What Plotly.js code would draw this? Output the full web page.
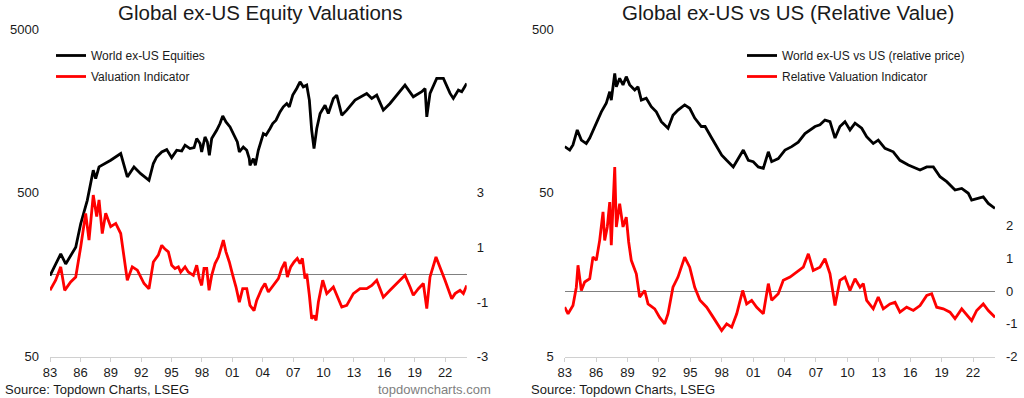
<!DOCTYPE html>
<html>
<head>
<meta charset="utf-8">
<script src="https://cdn.plot.ly/plotly-3.0.1.min.js"></script>
<style>
  html, body { margin: 0; padding: 0; background: #ffffff; }
  #chart { width: 1024px; height: 398px; }
</style>
</head>
<body>
<div id="chart"></div>
<script>
// ---------- data (decimal years) ----------
const tickYears = [1983,1986,1989,1992,1995,1998,2001,2004,2007,2010,2013,2016,2019,2022];
const tickLabels = ['83','86','89','92','95','98','01','04','07','10','13','16','19','22'];

// Left panel: World ex-US Equities (log scale, left axis)
const exusDates = [1983.0,1984.06,1984.55,1985.54,1986.03,1986.68,1987.27,1987.51,1987.84,1988.99,1989.98,1990.63,1991.29,1991.95,1992.77,
  1993.2,1993.53,1994.03,1994.52,1995.01,1995.51,1996.0,1996.33,1996.82,1997.22,1997.48,1997.81,1997.97,1998.30,1998.53,1998.73,1998.96,1999.45,1999.78,2000.05,2000.37,2000.77,2001.10,2001.49,2001.69,2002.08,2002.42,2002.67,2002.74,2003.07,2003.27,2003.56,2004.06,2004.32,2004.72,2004.98,2005.31,2005.70,2006.03,2006.37,2006.62,2006.96,2007.35,2007.68,2008.0,2008.34,2008.6,2008.83,2009.06,2009.33,2009.66,
  2010.15,2010.47,2010.97,2011.30,2011.80,2012.29,2013.11,2014.26,2014.76,2015.25,2015.90,2016.56,2017.22,2018.04,2018.86,2019.69,2020.02,2020.19,2020.51,2021.17,2021.83,2022.49,2022.81,2023.31,2023.64,2024.13];
const exusPrice = [156,212,184,233,324,450,687,611,720,791,869,625,720,655,596,
  755,828,889,918,820,910,900,977,931,944,1072,1000,889,1097,1023,847,1072,1205,1325,1475,1355,1262,1151,1023,889,953,910,809,736,809,736,910,1151,1125,1236,1325,1388,1560,1675,1755,1675,1974,2168,2382,2218,2271,1841,1205,931,1236,1524,
  1714,1524,1884,1974,1490,1598,1841,2022,1884,1974,1598,1755,1974,2271,1928,2070,2168,1455,2022,2496,2496,2022,1884,2118,2070,2328];

// Left panel: Valuation Indicator (right axis)
const valDates = [1983.0,1983.56,1984.06,1984.45,1985.04,1985.54,1986.03,1986.52,1986.85,1987.27,1987.61,1987.84,1988.16,1988.50,1988.99,1989.49,1989.98,1990.31,1990.63,1991.12,1991.62,1992.28,1992.77,
  1993.2,1993.69,1994.03,1994.35,1994.68,1995.01,1995.34,1995.67,1995.90,1996.33,1996.65,1997.15,1997.48,1997.74,1997.97,1998.2,1998.47,1998.7,1998.96,1999.29,1999.62,1999.85,2000.11,2000.37,2000.7,2001.04,2001.36,2001.69,2002.02,2002.42,2002.74,2003.14,2003.4,2003.9,2004.22,2004.55,2005.04,2005.54,2005.87,2006.2,2006.43,2006.76,2007.09,2007.41,2007.68,2007.91,2008.17,2008.34,2008.6,2008.83,2009.06,2009.26,2009.49,2009.66,
  2009.92,2010.32,2010.97,2011.80,2012.29,2012.94,2013.60,2014.26,2014.76,2015.25,2015.90,2016.56,2017.22,2018.04,2018.54,2018.86,2019.36,2019.85,2020.19,2020.51,2021.10,2021.50,2021.99,2022.65,2022.98,2023.47,2023.80,2024.13];
const valIndicator = [-0.57,-0.2,0.29,-0.57,-0.26,-0.08,1.02,2.25,1.27,2.92,2.13,2.74,1.51,2.25,1.76,1.88,1.51,0.53,-0.2,0.29,0.17,-0.32,-0.51,
  0.47,0.72,1.08,0.94,0.84,0.35,0.23,0.29,0.1,0.29,0.1,-0.02,0.35,-0.14,-0.39,0.23,0.23,-0.57,-0.02,0.41,0.65,0.96,1.27,0.84,0.47,-0.02,-0.45,-1.0,-0.51,-0.51,-1.12,-1.31,-0.94,-0.51,-0.32,-0.63,-0.39,-0.14,0.23,0.47,-0.08,0.29,0.47,0.6,0.41,0.6,-0.14,0.04,-0.75,-1.61,-1.49,-1.67,-1.0,-0.63,
  -0.2,-0.69,-0.45,-1.18,-1.12,-0.69,-0.51,-0.51,-0.39,-0.2,-0.82,-0.57,-0.32,-0.02,-0.45,-0.75,-0.51,-0.32,-1.24,-0.08,0.65,0.29,-0.2,-0.88,-0.69,-0.57,-0.69,-0.39];

// Right panel: World ex-US vs US relative price (log scale, left axis)
const relDates = [1983.0,1983.48,1983.79,1984.20,1984.59,1985.06,1985.39,1985.87,1986.50,1986.97,1987.30,1987.45,1987.78,1987.93,1988.25,1988.57,1988.88,1989.21,1989.69,1990.00,1990.32,1990.79,1991.27,1991.75,1992.23,1992.87,1993.34,1993.82,1994.46,1994.94,1995.42,1996.05,1996.41,1997.04,1997.52,1998.00,1998.47,1999.10,1999.58,2000.06,2000.54,2001.01,2001.49,2001.97,2002.45,2002.77,2003.40,2004.04,2004.68,2005.31,2005.95,2006.43,2006.91,2007.38,2007.86,2008.34,2008.82,2009.29,2009.77,2010.25,2010.73,2011.37,2011.84,2012.47,2012.95,2013.59,2014.38,2015.02,2015.82,2016.94,2017.58,2018.21,2018.85,2019.49,2020.28,2020.92,2021.55,2021.87,2022.35,2022.98,2023.46,2024.10];
const relPrice = [95.7,91.2,98,121,105,100,108,127,156,176,207,184,268,222,250,228,256,228,212,222,184,189,168,156,136,124,149,160,172,164,143,127,127,108,95.7,85,79,72,81,91.2,79,77.5,72,70.6,89,77.5,81,91.2,95.7,102,115,121,127,130,139,136,108,127,136,121,133,124,110,100,105,93.5,89,79,74,68.9,72,72,62.7,58.5,52,53.2,49.7,45.2,46.2,47.3,43.1,40.2];

// Right panel: Relative Valuation Indicator (right axis)
const relValDates = [1983.0,1983.32,1983.79,1984.11,1984.27,1984.59,1984.91,1985.39,1985.70,1986.02,1986.34,1986.66,1986.82,1987.07,1987.30,1987.45,1987.78,1987.93,1988.25,1988.57,1988.88,1989.11,1989.36,1989.84,1990.16,1990.64,1990.96,1991.60,1992.07,1992.55,1992.87,1993.34,1993.82,1994.46,1994.94,1995.42,1995.92,1996.56,1997.19,1997.99,1998.47,1998.95,1999.43,2000.00,2000.38,2000.86,2001.34,2001.97,2002.45,2002.77,2003.40,2003.88,2004.52,2005.16,2005.79,2006.27,2006.74,2007.38,2007.86,2008.34,2008.82,2009.29,2009.77,2010.25,2010.73,2011.21,2011.52,2011.84,2012.47,2012.95,2013.43,2014.07,2014.55,2015.02,2015.66,2016.30,2016.94,2017.58,2018.05,2018.53,2019.16,2019.80,2020.28,2020.92,2021.40,2021.87,2022.35,2022.98,2023.46,2024.10];
const relValIndicator = [-0.49,-0.69,-0.44,0.12,0.79,0.02,0.28,0.38,1.04,0.94,1.55,2.42,1.55,1.96,2.72,1.4,3.79,1.96,2.67,1.96,2.26,1.5,0.94,0.53,-0.18,0.02,-0.39,-0.54,-0.8,-1.0,-0.69,0.12,0.43,1.04,0.73,0.12,-0.28,-0.49,-0.8,-1.2,-1.0,-1.1,-0.69,0.02,-0.39,-0.28,-0.49,-0.69,0.23,-0.28,-0.08,0.33,0.43,0.58,0.73,1.14,0.63,0.73,0.99,0.53,-0.44,0.33,0.43,0.02,0.38,0.12,0.23,-0.28,-0.54,-0.18,-0.54,-0.39,-0.34,-0.64,-0.49,-0.59,-0.44,-0.13,-0.08,-0.49,-0.54,-0.64,-0.84,-0.54,-0.74,-0.9,-0.59,-0.39,-0.59,-0.8];

// ---------- chart ----------
const FONT = 'Liberation Sans, Arial, sans-serif';
const TXT = '#1a1a1a';
const W = 1024, H = 398;
const px = v => v / W;
const py = v => 1 - v / H;
const LW = 2.8;

const traces = [
  {x: valDates, y: valIndicator, xaxis: 'x', yaxis: 'y2', type: 'scatter', mode: 'lines',
   name: 'Valuation Indicator', line: {color: '#ff0000', width: LW},
   legend: 'legend', legendgroup: 'b', legendrank: 2},
  {x: exusDates, y: exusPrice, xaxis: 'x', yaxis: 'y', type: 'scatter', mode: 'lines',
   name: 'World ex-US Equities', line: {color: '#000000', width: LW},
   legend: 'legend', legendgroup: 'a', legendrank: 1},
  {x: relValDates, y: relValIndicator, xaxis: 'x2', yaxis: 'y4', type: 'scatter', mode: 'lines',
   name: 'Relative Valuation Indicator', line: {color: '#ff0000', width: LW},
   legend: 'legend2', legendgroup: 'd', legendrank: 2},
  {x: relDates, y: relPrice, xaxis: 'x2', yaxis: 'y3', type: 'scatter', mode: 'lines',
   name: 'World ex-US vs US (relative price)', line: {color: '#000000', width: LW},
   legend: 'legend2', legendgroup: 'c', legendrank: 1}
];

const yDom = [py(356.7), py(29)];
const xAxisBase = {
  tickvals: tickYears, ticktext: tickLabels, showgrid: false, zeroline: false,
  showline: true, linecolor: '#d0d0d0', linewidth: 1,
  ticks: 'outside', ticklen: 4, tickcolor: '#d0d0d0',
  tickfont: {family: FONT, size: 13, color: TXT}, fixedrange: true
};
const yBase = {
  showgrid: false, showline: false, ticks: '', fixedrange: true,
  tickfont: {family: FONT, size: 13, color: TXT}
};

const legendBase = {
  xanchor: 'left', yanchor: 'top', bgcolor: 'rgba(0,0,0,0)', borderwidth: 0,
  font: {family: FONT, size: 12, color: TXT}, traceorder: 'grouped', tracegroupgap: 2,
  itemwidth: 30, itemclick: false, itemdoubleclick: false
};

const layout = {
  width: W, height: H,
  margin: {l: 0, r: 0, t: 0, b: 0, pad: 0},
  paper_bgcolor: '#ffffff', plot_bgcolor: 'rgba(0,0,0,0)',
  showlegend: true,
  xaxis: Object.assign({}, xAxisBase, {domain: [px(50), px(466.7)], range: [1983, 2024.13], anchor: 'y'}),
  yaxis: Object.assign({}, yBase, {domain: yDom, type: 'log', range: [Math.log10(50), Math.log10(5000)],
    tickvals: [50, 500, 5000], ticktext: ['50', '500', '5000'], anchor: 'x', ticklabelstandoff: 10}),
  yaxis2: Object.assign({}, yBase, {overlaying: 'y', side: 'right', anchor: 'x', range: [-3, 9],
    tickvals: [-3, -1, 1, 3], ticktext: ['-3', '-1', '1', '3'], zeroline: true,
    zerolinecolor: '#808080', zerolinewidth: 1, ticklabelstandoff: 9}),
  xaxis2: Object.assign({}, xAxisBase, {domain: [px(564.7), px(995)], range: [1983, 2024.1], anchor: 'y3'}),
  yaxis3: Object.assign({}, yBase, {domain: yDom, type: 'log', range: [Math.log10(5), Math.log10(500)],
    tickvals: [5, 50, 500], ticktext: ['5', '50', '500'], anchor: 'x2', ticklabelstandoff: 10}),
  yaxis4: Object.assign({}, yBase, {overlaying: 'y3', side: 'right', anchor: 'x2', range: [-2, 8],
    tickvals: [-2, -1, 0, 1, 2], ticktext: ['-2', '-1', '0', '1', '2'], zeroline: true,
    zerolinecolor: '#808080', zerolinewidth: 1, ticklabelstandoff: 10}),
  legend: Object.assign({}, legendBase, {x: px(51), y: py(41)}),
  legend2: Object.assign({}, legendBase, {x: px(742), y: py(41)}),
  annotations: [
    {text: 'Global ex-US Equity Valuations', xref: 'paper', yref: 'paper', x: px(260), y: py(12),
     xanchor: 'center', yanchor: 'middle', showarrow: false, font: {family: FONT, size: 20.5, color: TXT}},
    {text: 'Global ex-US vs US (Relative Value)', xref: 'paper', yref: 'paper', x: px(788), y: py(12),
     xanchor: 'center', yanchor: 'middle', showarrow: false, font: {family: FONT, size: 20.5, color: TXT}},
    {text: 'Source: Topdown Charts, LSEG', xref: 'paper', yref: 'paper', x: px(3), y: py(389),
     xanchor: 'left', yanchor: 'middle', showarrow: false, font: {family: FONT, size: 13, color: TXT}},
    {text: 'topdowncharts.com', xref: 'paper', yref: 'paper', x: px(493), y: py(389),
     xanchor: 'right', yanchor: 'middle', showarrow: false, font: {family: FONT, size: 13, color: '#808080'}},
    {text: 'Source: Topdown Charts, LSEG', xref: 'paper', yref: 'paper', x: px(529), y: py(389),
     xanchor: 'left', yanchor: 'middle', showarrow: false, font: {family: FONT, size: 13, color: TXT}}
  ]
};

Plotly.newPlot('chart', traces, layout, {staticPlot: true, displayModeBar: false});
</script>
</body>
</html>
